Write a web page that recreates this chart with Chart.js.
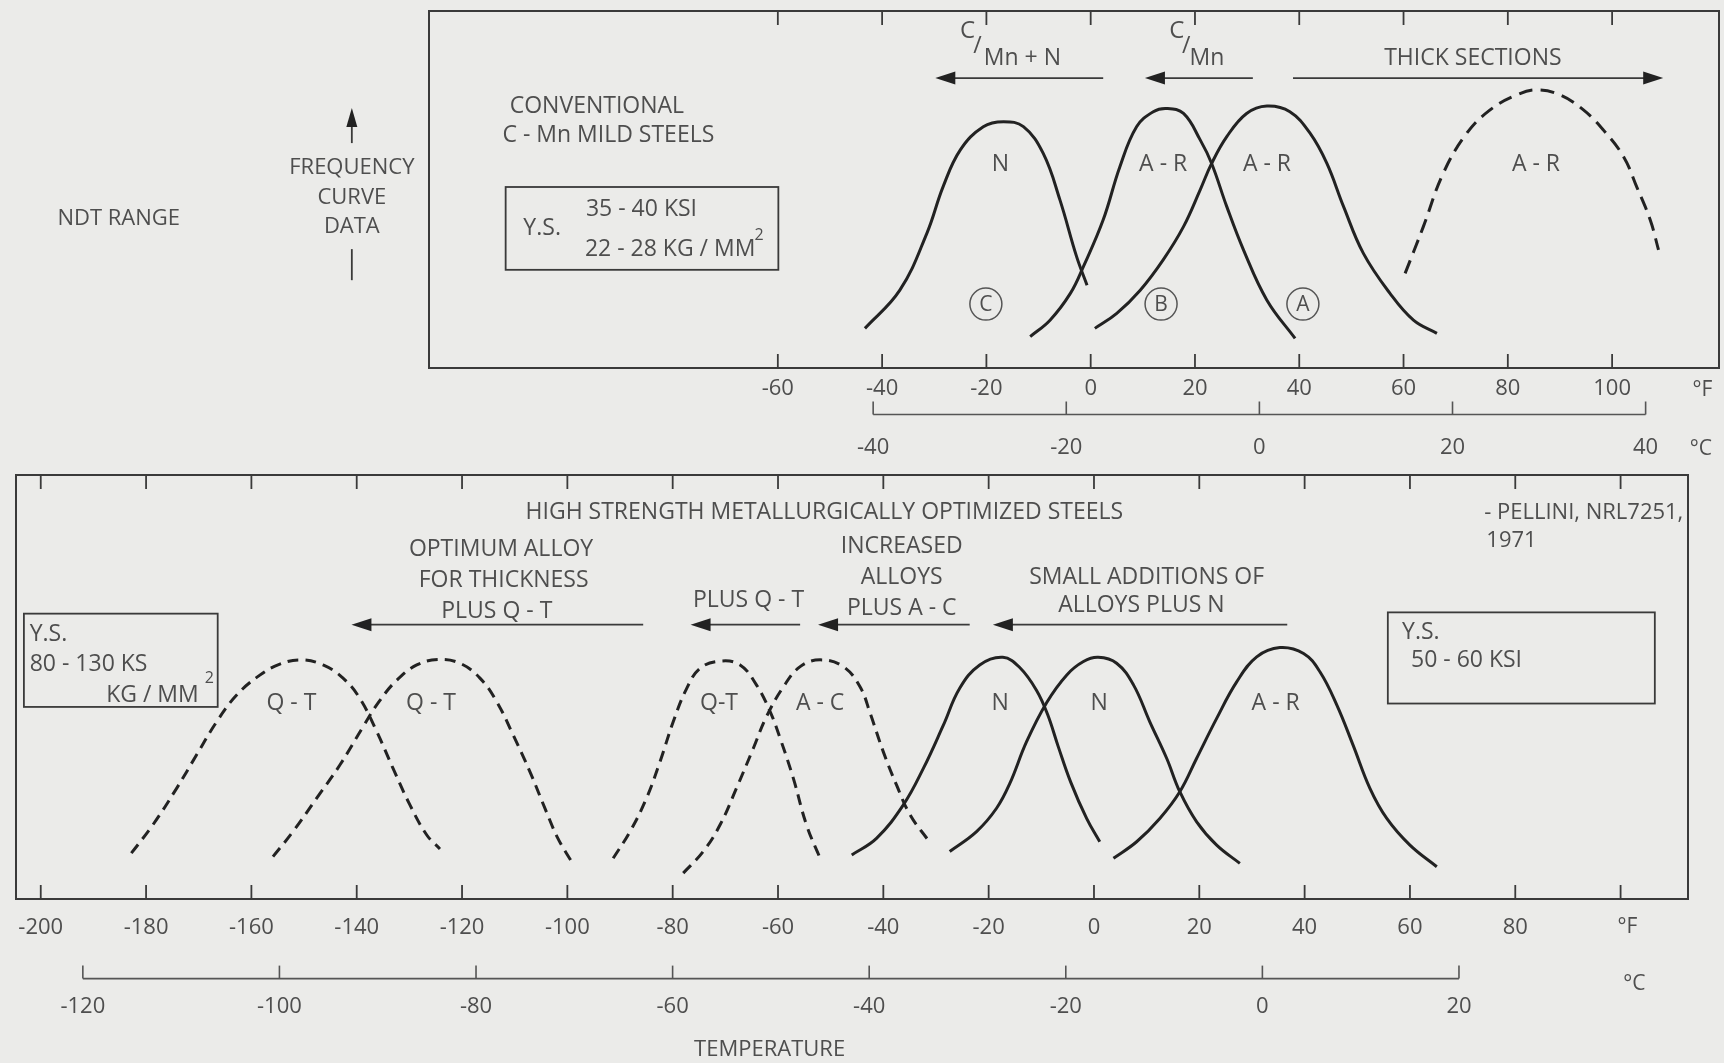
<!DOCTYPE html>
<html>
<head>
<meta charset="utf-8">
<script src="https://cdn.jsdelivr.net/npm/chart.js@4.4.1/dist/chart.umd.min.js"></script>
<style>
  html, body { margin: 0; padding: 0; background: #ebebe9; }
  #wrap { position: relative; width: 1724px; height: 1063px; overflow: hidden; }
  canvas { position: absolute; left: 0; }
</style>
</head>
<body>
<div id="wrap">
  <canvas id="topChart" width="1724" height="470" style="top:0"></canvas>
  <canvas id="botChart" width="1724" height="593" style="top:470px"></canvas>
</div>
<script>
// curve points: [temperature °F, relative frequency 0-100]
const topN = [[-43.3,11.1],[-36.6,21.8],[-31.4,37.8],[-28.3,50.8],[-25.0,61.1],[-20.6,67.6],[-16.7,69.0],[-12.9,67.6],[-9.1,60.1],[-5.9,47.1],[-2.7,31.2],[-0.7,23.2]];
const topB = [[-11.6,8.8],[-7.8,13.4],[-3.9,20.9],[-1.4,28.4],[2.4,41.5],[5.6,56.4],[8.8,67.6],[12.0,71.8],[14.6,72.7],[17.8,71.3],[21.0,63.9],[23.2,57.3],[26.1,45.2],[29.3,33.1],[33.8,19.0],[39.2,8.3]];
const topA = [[0.8,11.1],[5.0,15.3],[9.5,21.8],[13.9,30.3],[17.8,39.6],[21.0,49.9],[23.2,57.3],[26.1,64.8],[29.9,71.3],[33.8,73.4],[38.2,71.8],[42.1,65.7],[45.3,57.3],[48.5,45.2],[52.3,32.1],[57.4,20.9],[61.9,13.4],[66.4,9.7]];
const topThick = [[60.3,26.5],[63.8,39.6],[67.6,54.5],[72.1,65.7],[76.6,72.3],[81.7,76.5],[85.6,77.9],[90.0,76.5],[94.5,72.3],[98.3,66.7],[102.2,59.2],[104.7,50.8],[107.3,41.5],[108.9,33.1]];

const botQT1 = [[-182.8,10.8],[-178.7,17.5],[-174.2,26.1],[-170.4,34.0],[-166.6,41.8],[-162.8,48.1],[-158.4,52.8],[-154.6,55.4],[-150.5,56.4],[-146.4,55.2],[-142.6,52.1],[-139.4,47.3],[-136.2,39.5],[-133.1,30.8],[-129.9,22.2],[-126.7,15.1],[-124.2,11.8]];
const botQT2 = [[-155.9,10.0],[-152.1,15.9],[-147.6,23.8],[-143.2,31.6],[-138.8,40.6],[-135.8,46.5],[-132.4,51.6],[-128.6,55.2],[-124.5,56.5],[-120.4,55.6],[-116.6,52.1],[-113.4,46.5],[-110.3,38.7],[-107.1,30.0],[-104.0,20.6],[-101.8,14.3],[-99.2,8.8]];
const botQT3 = [[-91.3,9.6],[-88.1,15.9],[-85.0,23.7],[-82.4,32.4],[-79.9,41.8],[-77.4,49.5],[-74.8,54.4],[-71.0,56.1],[-67.2,55.2],[-64.1,50.5],[-61.5,44.2],[-59.6,37.9],[-57.1,28.5],[-54.6,17.5],[-52.0,9.6]];
const botAC = [[-78.0,6.1],[-74.2,11.2],[-71.0,17.5],[-67.9,26.1],[-64.7,35.5],[-62.2,43.0],[-59.0,50.0],[-55.8,54.8],[-52.0,56.4],[-47.6,54.8],[-44.4,50.0],[-42.5,43.8],[-40.0,34.7],[-37.5,26.9],[-34.9,19.8],[-31.5,13.9]];
const botN1 = [[-46.0,10.4],[-41.3,14.3],[-36.2,22.2],[-32.4,30.8],[-28.6,41.0],[-25.5,49.7],[-21.7,55.2],[-17.3,57.0],[-14.1,54.6],[-10.9,49.2],[-8.8,43.5],[-6.8,36.0],[-4.4,27.5],[-1.4,19.0],[1.1,13.5]];
const botN2 = [[-27.4,11.2],[-22.3,15.9],[-18.5,21.4],[-16.0,27.2],[-12.8,37.1],[-9.0,46.3],[-5.2,52.8],[-2.0,56.0],[0.8,57.0],[4.3,55.6],[7.5,50.5],[10.6,41.8],[13.8,33.2],[16.3,25.3],[19.5,18.2],[23.3,12.7],[27.7,8.4]];
const botAR = [[3.7,9.6],[8.1,13.5],[12.5,19.0],[16.3,25.3],[19.5,33.2],[23.3,42.6],[27.1,51.2],[30.9,57.1],[35.3,59.3],[39.8,57.9],[42.9,53.6],[46.1,45.8],[49.2,36.3],[52.4,26.1],[55.6,19.0],[60.0,12.7],[65.1,7.6]];

// axis tick labels
const topFahrenheit = [-60, -40, -20, 0, 20, 40, 60, 80, 100];
const topCelsius = [-40, -20, 0, 20, 40];
const topTickMarks = [-60, -40, -20, 0, 20, 40, 60, 80, 100];
const botFahrenheit = [-200, -180, -160, -140, -120, -100, -80, -60, -40, -20, 0, 20, 40, 60, 80];
const botCelsius = [-120, -100, -80, -60, -40, -20, 0, 20];
const botTickMarks = [-200, -180, -160, -140, -120, -100, -80, -60, -40, -20, 0, 20, 40, 60, 80, 100];

const FONT = "'Open Sans', 'Noto Sans', sans-serif";
const INK = '#222222';
const TEXT = '#4e4e4e';

// text, arrows, boxes and circled letters, placed in (°F, frequency) units
const topNotes = {
  texts: [
    { t: 'NDT RANGE', x: -186.4, y: 41.7, size: 22 },
    { t: 'FREQUENCY', x: -141.7, y: 56.0, size: 22 },
    { t: 'CURVE', x: -141.7, y: 47.6, size: 22 },
    { t: 'DATA', x: -141.7, y: 39.5, size: 22 },
    { t: 'CONVENTIONAL', x: -94.7, y: 73.4 },
    { t: 'C - Mn MILD STEELS', x: -92.5, y: 65.0 },
    { t: 'Y.S.', x: -105.2, y: 39.2 },
    { t: '35 - 40 KSI', x: -96.8, y: 44.3, align: 'left' },
    { t: '22 - 28 KG / MM', x: -97.0, y: 33.3, align: 'left' },
    { t: '2', x: -63.6, y: 37.0, size: 16 },
    { t: 'C', x: -23.6, y: 94.4, size: 24 }, { t: '/', x: -21.7, y: 90.2 }, { t: 'Mn + N', x: -13.1, y: 86.8 },
    { t: 'C', x: 16.5, y: 94.4, size: 24 }, { t: '/', x: 18.3, y: 90.2 }, { t: 'Mn', x: 22.3, y: 86.8 },
    { t: 'THICK SECTIONS', x: 73.3, y: 86.8 },
    { t: 'N', x: -17.3, y: 56.9 }, { t: 'A - R', x: 13.9, y: 56.9 },
    { t: 'A - R', x: 33.8, y: 56.9 }, { t: 'A - R', x: 85.4, y: 56.9 },
    { t: '°F', x: 117.3, y: -6.2, size: 21 }, { t: '°C', x: 117.0, y: -22.6, size: 21 }
  ],
  arrows: [
    { x1: 2.4, x2: -29.8, y: 81.2 },
    { x1: 31.1, x2: 10.4, y: 81.2 },
    { x1: 38.8, x2: 109.8, y: 81.2 }
  ],
  upArrows: [{ x: -141.7, y1: 63.0, y2: 72.8 }],
  strokes: [{ x: -141.7, y1: 24.6, y2: 33.3 }],
  boxes: [{ x1: -112.2, x2: -59.9, y1: 27.5, y2: 50.7 }],
  circles: [{ t: 'C', x: -20.1, y: 17.9 }, { t: 'B', x: 13.5, y: 17.9 }, { t: 'A', x: 40.7, y: 17.9 }]
};

const botNotes = {
  texts: [
    { t: 'HIGH STRENGTH METALLURGICALLY OPTIMIZED STEELS', x: -51.2, y: 91.2 },
    { t: '- PELLINI, NRL7251,', x: 74.1, y: 91.2, align: 'left', size: 22 },
    { t: '1971', x: 74.5, y: 84.4, align: 'left', size: 22 },
    { t: 'OPTIMUM ALLOY', x: -112.6, y: 82.4 },
    { t: 'FOR THICKNESS', x: -112.1, y: 75.1 },
    { t: 'PLUS Q - T', x: -113.4, y: 67.9 },
    { t: 'PLUS Q - T', x: -65.6, y: 70.4 },
    { t: 'INCREASED', x: -36.5, y: 83.1 },
    { t: 'ALLOYS', x: -36.5, y: 75.9 },
    { t: 'PLUS A - C', x: -36.5, y: 68.6 },
    { t: 'SMALL ADDITIONS OF', x: 10.0, y: 75.9 },
    { t: 'ALLOYS PLUS N', x: 9.0, y: 69.2 },
    { t: 'Y.S.', x: -202.1, y: 62.4, align: 'left' },
    { t: '80 - 130 KS', x: -202.1, y: 55.4, align: 'left' },
    { t: 'KG / MM', x: -170.0, y: 48.1, align: 'right' },
    { t: '2', x: -168.0, y: 52.0, size: 16 },
    { t: 'Y.S.', x: 58.5, y: 62.9, align: 'left' },
    { t: '50 - 60 KSI', x: 60.2, y: 56.2, align: 'left' },
    { t: 'Q - T', x: -152.4, y: 46.2 }, { t: 'Q - T', x: -125.9, y: 46.2 },
    { t: 'Q-T', x: -71.2, y: 46.2 }, { t: 'A - C', x: -52.0, y: 46.2 },
    { t: 'N', x: -17.8, y: 46.2 }, { t: 'N', x: 1.0, y: 46.2 }, { t: 'A - R', x: 34.5, y: 46.2 },
    { t: 'TEMPERATURE', x: -61.6, y: -35.6, size: 22 },
    { t: '°F', x: 101.3, y: -6.6, size: 21 }, { t: '°C', x: 102.6, y: -20.0, size: 21 }
  ],
  arrows: [
    { x1: -85.6, x2: -141.0, y: 64.7 },
    { x1: -55.8, x2: -76.6, y: 64.7 },
    { x1: -23.6, x2: -52.4, y: 64.7 },
    { x1: 36.7, x2: -19.2, y: 64.7 }
  ],
  upArrows: [],
  strokes: [],
  boxes: [
    { x1: -203.2, x2: -166.4, y1: 45.3, y2: 67.3 },
    { x1: 55.8, x2: 106.5, y1: 46.1, y2: 67.6 }
  ],
  circles: []
};

function makeDecor(cfg) {
  return {
    id: 'decor',
    afterDatasetsDraw(chart) {
      const ctx = chart.ctx, a = chart.chartArea;
      const xs = chart.scales.x, ys = chart.scales.y, cs = chart.scales.c;
      const px = v => xs.getPixelForValue(v), py = v => ys.getPixelForValue(v);
      const seg = (x1, y1, x2, y2) => { ctx.beginPath(); ctx.moveTo(x1, y1); ctx.lineTo(x2, y2); ctx.stroke(); };
      ctx.save();
      ctx.strokeStyle = '#3a3a3a';
      ctx.lineWidth = 2;
      ctx.strokeRect(a.left, a.top, a.right - a.left, a.bottom - a.top);

      // short tick marks on the inside of the frame
      ctx.lineWidth = 1.8;
      cfg.tickMarks.forEach(v => {
        const x = px(v);
        seg(x, a.top, x, a.top + 14);
        seg(x, a.bottom, x, a.bottom - 14);
      });

      // °C bracket
      const by = cs.top + cfg.bracketOffset;
      const c0 = cs.getPixelForValue(cfg.celsius[0]);
      const c1 = cs.getPixelForValue(cfg.celsius[cfg.celsius.length - 1]);
      ctx.lineWidth = 1.6;
      ctx.strokeStyle = '#555';
      seg(c0, by, c1, by);
      cfg.celsius.forEach(v => { const x = cs.getPixelForValue(v); seg(x, by, x, by - 13); });

      // arrows
      ctx.strokeStyle = '#3a3a3a';
      ctx.fillStyle = '#222222';
      ctx.lineWidth = 1.8;
      cfg.notes.arrows.forEach(ar => {
        const x1 = px(ar.x1), x2 = px(ar.x2), y = py(ar.y);
        const dir = x2 < x1 ? 1 : -1;
        seg(x1, y, x2 + dir * 12, y);
        ctx.beginPath();
        ctx.moveTo(x2, y);
        ctx.lineTo(x2 + dir * 20, y - 6.5);
        ctx.lineTo(x2 + dir * 20, y + 6.5);
        ctx.closePath();
        ctx.fill();
      });
      cfg.notes.upArrows.forEach(ar => {
        const x = px(ar.x), y1 = py(ar.y1), y2 = py(ar.y2);
        seg(x, y1, x, y2 + 10);
        ctx.beginPath();
        ctx.moveTo(x, y2);
        ctx.lineTo(x - 5.5, y2 + 19);
        ctx.lineTo(x + 5.5, y2 + 19);
        ctx.closePath();
        ctx.fill();
      });
      cfg.notes.strokes.forEach(s => seg(px(s.x), py(s.y1), px(s.x), py(s.y2)));

      // boxes
      ctx.lineWidth = 1.8;
      cfg.notes.boxes.forEach(b => {
        ctx.strokeRect(px(b.x1), py(b.y2), px(b.x2) - px(b.x1), py(b.y1) - py(b.y2));
      });

      // texts
      ctx.fillStyle = TEXT;
      ctx.textBaseline = 'middle';
      cfg.notes.texts.forEach(n => {
        ctx.font = (n.size || 23) + 'px ' + FONT;
        ctx.textAlign = n.align || 'center';
        ctx.fillText(n.t, px(n.x), py(n.y));
      });

      // circled letters
      ctx.lineWidth = 1.5;
      ctx.strokeStyle = '#555';
      cfg.notes.circles.forEach(c => {
        const x = px(c.x), y = py(c.y);
        ctx.beginPath();
        ctx.arc(x, y, 16, 0, Math.PI * 2);
        ctx.stroke();
        ctx.font = '21px ' + FONT;
        ctx.textAlign = 'center';
        ctx.fillText(c.t, x, y + 1);
      });
      ctx.restore();
    }
  };
}

function makeChart(id, cfg) {
  return new Chart(document.getElementById(id), {
    type: 'line',
    data: {
      datasets: cfg.curves.map(c => ({
        data: c.points.map(p => ({ x: p[0], y: p[1] })),
        xAxisID: 'x',
        yAxisID: 'y',
        borderColor: INK,
        borderWidth: 3,
        borderDash: c.dashed ? cfg.dash : [],
        pointRadius: 0,
        fill: false,
        tension: 0.4
      }))
    },
    options: {
      responsive: false,
      animation: false,
      events: [],
      layout: { padding: cfg.padding },
      plugins: { legend: { display: false }, tooltip: { enabled: false } },
      scales: {
        x: {
          type: 'linear', axis: 'x', position: 'bottom',
          min: cfg.fMin, max: cfg.fMax,
          grid: { display: false, drawTicks: false },
          border: { display: false },
          ticks: { font: { family: FONT, size: 22 }, color: TEXT, padding: cfg.fPad,
                   autoSkip: false, maxRotation: 0, callback: v => String(v) },
          afterBuildTicks: s => { s.ticks = cfg.fahrenheit.map(v => ({ value: v })); },
          afterFit: s => { s.height = cfg.fHeight; }
        },
        c: {
          type: 'linear', axis: 'x', position: 'bottom',
          min: cfg.cMin, max: cfg.cMax,
          grid: { display: false, drawTicks: false },
          border: { display: false },
          ticks: { font: { family: FONT, size: 22 }, color: TEXT, padding: cfg.cPad,
                   autoSkip: false, maxRotation: 0, callback: v => String(v) },
          afterBuildTicks: s => { s.ticks = cfg.celsius.map(v => ({ value: v })); },
          afterFit: s => { s.height = cfg.cHeight; }
        },
        y: { display: false, min: 0, max: 100 }
      }
    },
    plugins: [makeDecor(cfg)]
  });
}

makeChart('topChart', {
  curves: [
    { points: topN }, { points: topB }, { points: topA }, { points: topThick, dashed: true }
  ],
  dash: [14, 8],
  padding: { left: 429, right: 5, top: 11, bottom: 0 },
  fMin: -126.9, fMax: 120.5, fPad: 8, fHeight: 38,
  cMin: -86.0, cMax: 47.6, cPad: 29, cHeight: 64,
  fahrenheit: topFahrenheit, celsius: topCelsius, tickMarks: topTickMarks,
  bracketOffset: 8.5,
  notes: topNotes
});

makeChart('botChart', {
  curves: [
    { points: botQT1, dashed: true }, { points: botQT2, dashed: true },
    { points: botQT3, dashed: true }, { points: botAC, dashed: true },
    { points: botN1 }, { points: botN2 }, { points: botAR }
  ],
  dash: [11, 7],
  padding: { left: 16, right: 36, top: 5, bottom: 0 },
  fMin: -204.7, fMax: 112.8, fPad: 16, fHeight: 45,
  cMin: -126.8, cMax: 43.3, cPad: 50, cHeight: 119,
  fahrenheit: botFahrenheit, celsius: botCelsius, tickMarks: botTickMarks,
  bracketOffset: 34.6,
  notes: botNotes
});
</script>
</body>
</html>
